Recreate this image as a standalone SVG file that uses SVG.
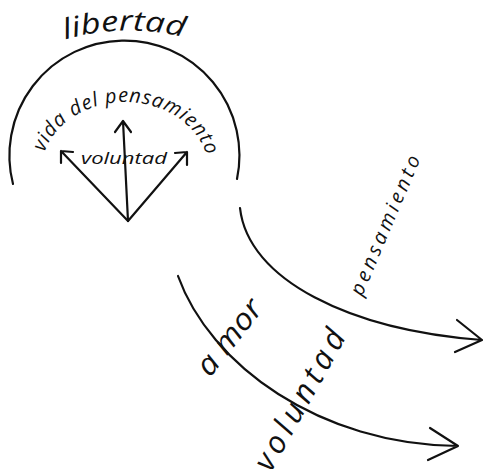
<svg xmlns="http://www.w3.org/2000/svg" width="484" height="469" viewBox="0 0 484 469">
<style>
.ln{fill:none;stroke:#111;stroke-width:2.2;stroke-linecap:round;stroke-linejoin:round}
.t{font-family:"Open Sans","DejaVu Sans","Liberation Sans",sans-serif;font-style:italic;font-weight:500;fill:#111}
</style>
<defs>
<path id="pLib" d="M 63,40 Q 125,22 187,38"/>
<path id="pVida" d="M 41,172 A 84 70 0 0 1 209,172"/>
</defs>
<rect width="484" height="469" fill="#fff"/>
<g id="libertad-arc">
<path class="ln" d="M 13,184 A 115 115 0 1 1 237,179" stroke-width="2.5"/>
<text class="t" font-size="28"><textPath href="#pLib" startOffset="2" textLength="120" lengthAdjust="spacingAndGlyphs">libertad</textPath></text>
</g>
<g id="vida-del-pensamiento">
<text class="t" font-size="20"><textPath href="#pVida" startOffset="20" textLength="205" lengthAdjust="spacing">vida del pensamiento</textPath></text>
</g>
<g id="voluntad-center">
<text class="t" x="81" y="164" font-size="16" font-weight="400" textLength="86" lengthAdjust="spacingAndGlyphs">voluntad</text>
</g>
<g id="connectors">
<path class="ln" d="M 128,221 L 123,121 M 115,132 L 123,121 L 131,132"/>
<path class="ln" d="M 128,221 L 61,151 M 61,163 L 61,151 L 73,152"/>
<path class="ln" d="M 128,221 L 187,152 M 175,153 L 187,152 L 187,165"/>
<path class="ln" d="M 240,208 C 248,280 350,330 482,340 M 457,320 L 482,340 L 455,352"/>
<path class="ln" d="M 178,276 C 210,365 320,445 458,446 M 430,428 L 458,446 L 428,460"/>
</g>
<g id="labels">
<text class="t" font-size="20" transform="translate(362,297) rotate(-67)" textLength="150" lengthAdjust="spacing">pensamiento</text>
<text class="t" font-size="30" transform="translate(210,378) rotate(-52)" textLength="88" lengthAdjust="spacingAndGlyphs">a mor</text>
<text class="t" font-size="31" transform="translate(271,473) rotate(-61)" textLength="156" lengthAdjust="spacing">voluntad</text>
</g>
</svg>
